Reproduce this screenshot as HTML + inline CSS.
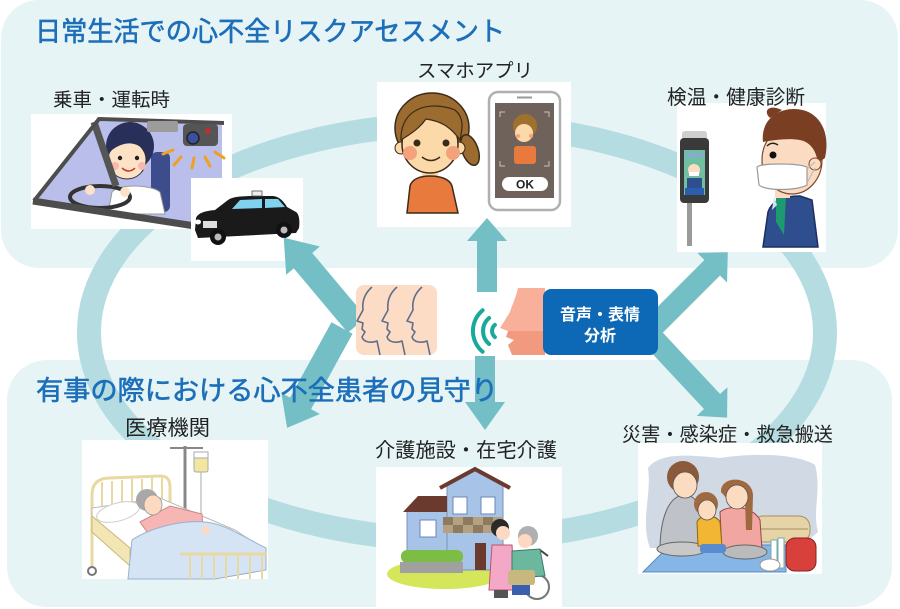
<!DOCTYPE html>
<html><head><meta charset="utf-8"><style>
html,body{margin:0;padding:0;background:#fff;}
svg{display:block;}
text{font-family:"Liberation Sans","Noto Sans CJK JP",sans-serif;}
</style></head><body>
<svg width="900" height="609" viewBox="0 0 900 609" xmlns="http://www.w3.org/2000/svg">
<rect width="900" height="609" fill="#fff"/>
<!-- panels -->
<rect x="1" y="0" width="897" height="268" rx="38" fill="#e6f4f6"/>
<rect x="7" y="360" width="885" height="247" rx="40" fill="#e6f4f6"/>
<!-- ring -->
<ellipse cx="457" cy="332" rx="368" ry="208" fill="none" stroke="#b5dde1" stroke-width="24"/>

<!-- ===== Driver ===== -->
<rect x="31" y="114" width="201" height="115" fill="#fff"/>
<polygon points="38,198 100,121 222,125 222,215 190,224" fill="#b9bfea"/>
<rect x="151" y="152" width="19" height="60" rx="6" fill="#3d4c8c"/>
<path d="M108,214 L112,192 C118,184 150,184 160,192 L165,214 Z" fill="#fff" stroke="#999" stroke-width="1"/>
<ellipse cx="130" cy="146" rx="24" ry="24" fill="#28305a"/>
<ellipse cx="127" cy="160" rx="19" ry="19" fill="#fde2c6" stroke="#333" stroke-width="1"/>
<path d="M107,156 C106,130 130,124 150,138 C150,146 148,150 146,152 C138,142 125,140 112,150 Z" fill="#28305a"/>
<circle cx="120" cy="158" r="2.2" fill="#222"/><circle cx="137" cy="158" r="2.2" fill="#222"/>
<circle cx="115" cy="166" r="4" fill="#f6b8b0"/><circle cx="142" cy="166" r="4" fill="#f6b8b0"/>
<path d="M122,168 Q129,174 135,168" fill="none" stroke="#c0392b" stroke-width="1.5"/>
<ellipse cx="100" cy="197" rx="30" ry="11" fill="none" stroke="#333" stroke-width="4"/>
<circle cx="90" cy="190" r="5" fill="#fde2c6"/><circle cx="125" cy="192" r="5" fill="#fde2c6"/>
<line x1="94" y1="122" x2="116" y2="186" stroke="#555" stroke-width="7"/>
<polyline points="34,201 99,119 224,123" fill="none" stroke="#4d4d4d" stroke-width="4"/>
<line x1="33" y1="201" x2="195" y2="226" stroke="#4d4d4d" stroke-width="7"/>
<rect x="147" y="121" width="31" height="11" rx="2" fill="#9c9c9c"/>
<rect x="183" y="124" width="35" height="22" rx="4" fill="#555"/>
<circle cx="193" cy="138" r="6" fill="#3a4fa0" stroke="#222" stroke-width="1.5"/>
<circle cx="208" cy="131" r="2.5" fill="#d22"/>
<g stroke="#f0a020" stroke-width="3" stroke-linecap="round">
<line x1="173" y1="150" x2="163" y2="154"/><line x1="181" y1="157" x2="174" y2="165"/>
<line x1="194" y1="158" x2="192" y2="168"/><line x1="205" y1="157" x2="210" y2="166"/>
<line x1="215" y1="152" x2="224" y2="158"/></g>

<!-- ===== Taxi ===== -->
<rect x="191" y="178" width="112" height="83" fill="#fff"/>
<path d="M195,230 L196,218 C198,213 205,211 215,210 L228,200 C232,197 240,196 255,196 L272,196 C278,196 283,200 287,207 L296,212 C299,214 300,220 299,228 L296,233 L198,238 Z" fill="#1a1a1a"/>
<path d="M232,209 L240,200 L262,199 L262,208 Z" fill="#7fd3ee"/>
<path d="M265,199 L278,199 L285,207 L265,208 Z" fill="#7fd3ee"/>
<rect x="203" y="221" width="14" height="7" fill="#ddd"/>
<ellipse cx="198" cy="222" rx="3" ry="2.5" fill="#fff"/>
<rect x="252" y="191" width="10" height="5" fill="#eee" stroke="#555" stroke-width="0.8"/>
<circle cx="218" cy="237" r="8" fill="#111"/><circle cx="218" cy="237" r="3.5" fill="#bbb"/>
<circle cx="284" cy="230" r="8" fill="#111"/><circle cx="284" cy="230" r="3.5" fill="#bbb"/>

<!-- ===== Smartphone ===== -->
<rect x="377" y="82" width="194" height="145" fill="#fff"/>
<ellipse cx="432" cy="128" rx="37" ry="35" fill="#9c6b2f" stroke="#3a2a1a" stroke-width="1.5"/>
<ellipse cx="470" cy="150" rx="8" ry="16" transform="rotate(-20 470 150)" fill="#9c6b2f" stroke="#3a2a1a" stroke-width="1.5"/>
<rect x="422" y="168" width="16" height="10" fill="#fcd9a8"/>
<path d="M407,213 L410,186 C412,179 420,176 430,176 C440,176 450,179 452,186 L458,213 Z" fill="#e97a3d" stroke="#3a2a1a" stroke-width="1.5"/>
<circle cx="401" cy="148" r="6" fill="#fcd9a8" stroke="#3a2a1a"/>
<circle cx="459" cy="148" r="6" fill="#fcd9a8" stroke="#3a2a1a"/>
<ellipse cx="430" cy="144" rx="28" ry="29" fill="#fcd9a8" stroke="#3a2a1a" stroke-width="1.5"/>
<path d="M401,140 C400,108 430,100 455,110 C465,118 462,130 460,140 C450,126 440,121 426,119 C419,129 409,135 401,140 Z" fill="#9c6b2f" stroke="#3a2a1a" stroke-width="1.2"/>
<circle cx="417" cy="143" r="3.5" fill="#3a2a1a"/><circle cx="446" cy="143" r="3.5" fill="#3a2a1a"/>
<circle cx="410" cy="153" r="7" fill="#f4a27c"/><circle cx="453" cy="153" r="7" fill="#f4a27c"/>
<path d="M422,157 Q431,164 440,157" fill="none" stroke="#3a2a1a" stroke-width="1.5"/>
<rect x="489" y="92" width="71" height="118" rx="9" fill="#fff" stroke="#b0b0b0" stroke-width="2.5"/>
<line x1="517" y1="97.5" x2="532" y2="97.5" stroke="#999" stroke-width="2"/>
<rect x="495" y="103" width="59" height="95" fill="#6e625a"/>
<g stroke="#c9c2bb" stroke-width="1" fill="none">
<polyline points="500,117 500,112 505,112"/><polyline points="544,112 549,112 549,117"/>
<polyline points="500,161 500,166 505,166"/><polyline points="544,166 549,166 549,161"/></g>
<circle cx="525" cy="126" r="12" fill="#a0702f"/>
<rect x="514" y="146" width="22" height="18" rx="3" fill="#e97a3d"/>
<circle cx="524" cy="133" r="9" fill="#fcd9a8"/>
<circle cx="518" cy="136" r="2" fill="#f4a27c"/><circle cx="531" cy="136" r="2" fill="#f4a27c"/>
<rect x="502" y="177" width="46" height="14" rx="7" fill="#fff"/>
<text x="525" y="188.5" font-size="12" font-weight="bold" text-anchor="middle" fill="#222">OK</text>

<!-- ===== Health ===== -->
<rect x="677" y="103" width="149" height="149" fill="#fff"/>
<rect x="687" y="200" width="5" height="46" fill="#9a9a9a"/>
<rect x="682" y="131" width="25" height="9" rx="3" fill="#cfcfcf"/>
<rect x="680" y="138" width="29" height="65" rx="4" fill="#3a3a3a"/>
<rect x="684" y="150" width="21" height="45" fill="#6fc0a0"/>
<rect x="686" y="153" width="17" height="4" fill="#8aa8d8"/>
<circle cx="694" cy="170" r="6" fill="#fcdcc2"/>
<rect x="689" y="172" width="10" height="4" fill="#fff"/>
<rect x="687" y="178" width="15" height="10" fill="#2e4e8e"/>
<rect x="685" y="188" width="19" height="7" fill="#2a5fb0"/>
<path d="M763,247 L768,212 C772,200 785,196 800,196 L812,200 L818,247 Z" fill="#2e4e8e" stroke="#1e2e5e" stroke-width="1.5"/>
<path d="M776,196 L786,196 L784,235 L776,222 Z" fill="#1e9a70"/>
<path d="M774,197 L772,210 L777,205 Z" fill="#cfe4f0"/>
<rect x="775" y="182" width="15" height="16" fill="#fbdcc2"/>
<ellipse cx="792" cy="160" rx="30" ry="34" fill="#fbdcc2" stroke="#7a4a30" stroke-width="1.2"/>
<path d="M763,142 C760,116 785,104 806,111 C822,117 830,135 825,158 L818,163 C816,150 810,142 800,140 C788,138 775,140 763,142 Z" fill="#7a3e22"/>
<path d="M770,118 C762,110 770,104 782,110 Z" fill="#7a3e22"/>
<circle cx="815" cy="164" r="6" fill="#fbdcc2" stroke="#7a4a30"/>
<circle cx="773" cy="155" r="3.5" fill="#111"/>
<path d="M767,146 Q772,141 778,145" fill="none" stroke="#222" stroke-width="1.5"/>
<path d="M757,167 C761,163 797,163 807,167 L807,185 C797,191 765,191 759,185 Z" fill="#fff" stroke="#999" stroke-width="1.2"/>
<line x1="807" y1="169" x2="815" y2="162" stroke="#bbb" stroke-width="1.2"/>
<line x1="807" y1="183" x2="815" y2="168" stroke="#bbb" stroke-width="1.2"/>

<!-- ===== Hospital ===== -->
<rect x="82" y="440" width="186" height="139" fill="#fff"/>
<line x1="185" y1="446" x2="185" y2="513" stroke="#888" stroke-width="3"/>
<line x1="170" y1="448" x2="203" y2="448" stroke="#888" stroke-width="2"/>
<rect x="194" y="452" width="14" height="20" rx="2" fill="#f2e7a0" stroke="#aaa"/>
<rect x="194" y="452" width="14" height="6" fill="#fff" stroke="#aaa"/>
<line x1="201" y1="472" x2="201" y2="520" stroke="#aaa"/>
<path d="M92,568 L92,495 C92,482 100,478 110,478 L160,476 C168,476 170,480 170,488 L170,512" fill="none" stroke="#e8d9a0" stroke-width="3"/>
<g stroke="#e8d9a0" stroke-width="2">
<line x1="102" y1="482" x2="102" y2="512"/><line x1="112" y1="481" x2="112" y2="510"/>
<line x1="122" y1="480" x2="122" y2="508"/><line x1="132" y1="479" x2="132" y2="506"/>
<line x1="142" y1="479" x2="142" y2="505"/><line x1="152" y1="478" x2="152" y2="504"/>
<line x1="162" y1="478" x2="162" y2="503"/></g>
<polygon points="92,508 160,498 235,530 262,548 262,556 132,556 92,520" fill="#fff" stroke="#bbb"/>
<polygon points="92,516 130,548 130,566 92,532" fill="#f3e6b5" stroke="#c9b878"/>
<ellipse cx="118" cy="512" rx="22" ry="9" transform="rotate(-15 118 512)" fill="#fff" stroke="#ccc"/>
<polygon points="140,522 170,506 202,514 203,530 150,536" fill="#f6b6b4" stroke="#c88"/>
<circle cx="147" cy="500" r="11" fill="#a8a8a8"/>
<ellipse cx="153" cy="505" rx="9" ry="10" fill="#fcd9c0" stroke="#999" stroke-width="0.8"/>
<path d="M128,579 L132,540 C150,528 180,520 205,522 C225,524 240,535 266,548 L266,570 L215,579 Z" fill="#d4e4f5" stroke="#9ab0d0"/>
<circle cx="206" cy="530" r="4" fill="#fcd9c0"/>
<line x1="180" y1="554" x2="267" y2="554" stroke="#e8d9a0" stroke-width="3"/>
<g stroke="#e8d9a0" stroke-width="2">
<line x1="190" y1="555" x2="190" y2="579"/><line x1="202" y1="555" x2="202" y2="579"/>
<line x1="214" y1="555" x2="214" y2="579"/><line x1="226" y1="555" x2="226" y2="579"/>
<line x1="238" y1="555" x2="238" y2="579"/><line x1="250" y1="555" x2="250" y2="579"/>
<line x1="262" y1="555" x2="262" y2="579"/></g>
<circle cx="92" cy="571" r="4" fill="none" stroke="#777" stroke-width="2"/>

<!-- ===== Care ===== -->
<rect x="376" y="467" width="186" height="140" fill="#fff"/>
<ellipse cx="445" cy="574" rx="58" ry="15" fill="#d5e65a"/>
<polygon points="447,486 475,471 503,486 503,570 447,570" fill="#a8c3e8" stroke="#7a90b8"/>
<polyline points="440,488 475,469 510,488" fill="none" stroke="#6b3a2e" stroke-width="4"/>
<rect x="453" y="497" width="14" height="17" fill="#fff" stroke="#6b86b8"/>
<rect x="481" y="497" width="14" height="17" fill="#fff" stroke="#6b86b8"/>
<rect x="407" y="510" width="40" height="43" fill="#a8c3e8" stroke="#7a90b8"/>
<polygon points="403,512 418,496 447,496 447,512" fill="#6b3a2e"/>
<rect x="420" y="520" width="16" height="17" fill="#fff" stroke="#6b86b8"/>
<rect x="443" y="517" width="60" height="16" fill="#b5a080"/>
<g fill="#8e7a5e"><rect x="443" y="517" width="10" height="8"/><rect x="463" y="517" width="10" height="8"/><rect x="483" y="517" width="10" height="8"/>
<rect x="453" y="525" width="10" height="8"/><rect x="473" y="525" width="10" height="8"/><rect x="493" y="525" width="10" height="8"/></g>
<rect x="475" y="543" width="11" height="27" fill="#6b3a2e"/>
<rect x="401" y="550" width="62" height="13" rx="6" fill="#7cbd45"/>
<rect x="400" y="562" width="63" height="11" fill="#a0a0a0"/>
<circle cx="500" cy="528" r="9" fill="#2a2a2a"/>
<circle cx="503" cy="533" r="7" fill="#fcd9c0"/>
<polygon points="492,545 512,545 515,590 489,590" fill="#f4a8c8" stroke="#b56"/>
<rect x="494" y="590" width="14" height="8" fill="#555"/>
<circle cx="537" cy="587" r="12" fill="none" stroke="#777" stroke-width="2"/>
<line x1="540" y1="550" x2="548" y2="556" stroke="#444" stroke-width="2"/>
<circle cx="528" cy="536" r="10" fill="#b0b0b0"/>
<circle cx="525" cy="541" r="7" fill="#fcd9c0"/>
<polygon points="512,551 540,549 545,576 512,578" fill="#6cb89e" stroke="#3a7a6a"/>
<rect x="508" y="570" width="27" height="15" rx="3" fill="#c8b880"/>
<rect x="512" y="585" width="18" height="10" fill="#3a5fb0"/>

<!-- ===== Disaster ===== -->
<rect x="638" y="443" width="184" height="131" fill="#fff"/>
<path d="M648,468 C660,452 690,455 720,458 C760,452 800,455 815,465 C822,490 812,510 818,532 L800,548 L650,548 C640,520 652,495 648,468 Z" fill="#d0d9e4"/>
<polygon points="643,572 670,545 786,545 786,572" fill="#86b6e6" stroke="#5a8abd"/>
<rect x="752" y="516" width="58" height="26" rx="11" fill="#e6d3a8" stroke="#a89060"/>
<line x1="756" y1="529" x2="808" y2="529" stroke="#a89060"/>
<path d="M660,550 C660,520 668,495 685,495 C700,495 706,520 705,545 Z" fill="#bfc3c9" stroke="#666"/>
<ellipse cx="682" cy="549" rx="25" ry="7" fill="#c8c8c8" stroke="#666"/>
<circle cx="683" cy="477" r="16" fill="#8b5a3a"/>
<ellipse cx="685" cy="485" rx="12" ry="13" fill="#fcdcc0" stroke="#555" stroke-width="0.8"/>
<path d="M720,512 C728,505 752,505 760,520 L762,550 L722,552 Z" fill="#f2a6a2" stroke="#944"/>
<ellipse cx="745" cy="552" rx="22" ry="7" fill="#bbb" stroke="#666"/>
<path d="M721,492 C720,475 752,475 753,495 L752,530 L746,530 L745,500 L728,500 Z" fill="#a0683f"/>
<ellipse cx="737" cy="497" rx="11" ry="12" fill="#fcdcc0" stroke="#555" stroke-width="0.8"/>
<path d="M697,522 C700,514 716,514 720,522 L722,546 L698,546 Z" fill="#f2b634" stroke="#8a6a10"/>
<rect x="700" y="544" width="26" height="9" rx="3" fill="#5a8ad0"/>
<circle cx="706" cy="504" r="12" fill="#a06a40"/>
<ellipse cx="707" cy="510" rx="9" ry="10" fill="#fcdcc0" stroke="#555" stroke-width="0.8"/>
<g fill="#fff" stroke="#7aa"><rect x="771" y="540" width="6" height="28"/><rect x="778" y="538" width="6" height="30"/></g>
<ellipse cx="770" cy="565" rx="10" ry="6" fill="#fff" stroke="#999"/>
<rect x="786" y="538" width="30" height="33" rx="9" fill="#d8403c" stroke="#8a2020"/>

<!-- ===== arrows ===== -->
<g fill="#74bec5">
<polygon transform="translate(487,292) rotate(-90)" points="0,-10 51,-10 51,-20 74,0 51,20 51,10 0,10"/>
<polygon transform="translate(485,356) rotate(90)" points="0,-10 46,-10 46,-20 74,0 46,20 46,10 0,10"/>
<polygon transform="translate(357,325) rotate(-130)" points="0,-12 84,-12 84,-22 114,0 84,22 84,12 0,12"/>
<polygon transform="translate(342,328) rotate(118.8)" points="0,-12 86,-12 86,-22 114,0 86,22 86,12 0,12"/>
<polygon transform="translate(650,330) rotate(-45)" points="0,-11 88,-11 88,-21 110,0 88,21 88,11 0,11"/>
<polygon transform="translate(650,335) rotate(47)" points="0,-11 91,-11 91,-21 113,0 91,21 91,11 0,11"/>
</g>

<!-- faces icon -->
<rect x="356" y="285" width="81" height="70" rx="8" fill="#fddcc6"/>
<g fill="none" stroke="#5f6f8a" stroke-width="1.6" stroke-linejoin="round">
<path d="M372,287 C364,294 362,302 363,310 L357,321 L363,323 L362,329 L365,332 L362,337 C364,343 372,343 377,341 L380,355"/>
<path d="M397,287 C389,294 387,302 388,310 L382,321 L388,323 L387,329 L390,332 L387,337 C389,343 397,343 402,341 L405,355"/>
<path d="M422,287 C414,294 412,302 413,310 L407,321 L413,323 L412,329 L415,332 L412,337 C414,343 422,343 427,341 L430,355"/>
</g>

<!-- speaking face -->
<path d="M545,288 L518,288 C515,300 512,305 510,312 L500,328 L508,331 L545,331 Z" fill="#f9b09a"/>
<path d="M545,331 L508,331 L506,337 L514,340 L508,345 L512,355 L545,355 Z" fill="#f29a80"/>
<g fill="none" stroke="#19a99b" stroke-width="4" stroke-linecap="round">
<path d="M494.9,324.9 A8,8 0 0 0 494.9,337.1"/>
<path d="M489.1,318 A17,17 0 0 0 489.1,344"/>
<path d="M482.6,310.3 A27,27 0 0 0 482.6,351.7"/>
</g>

<!-- center box -->
<rect x="543" y="289" width="115" height="66" rx="8" fill="#0d68b6"/>
<text x="600" y="320" font-size="16" font-weight="bold" fill="#fff" text-anchor="middle">音声・表情</text>
<text x="600" y="341" font-size="16" font-weight="bold" fill="#fff" text-anchor="middle">分析</text>

<!-- titles -->
<text x="35" y="41" font-size="27" fill="#1c6fb8" stroke="#1c6fb8" stroke-width="0.6" textLength="470" lengthAdjust="spacingAndGlyphs">日常生活での心不全リスクアセスメント</text>
<text x="36" y="400" font-size="27" fill="#1c6fb8" stroke="#1c6fb8" stroke-width="0.6" textLength="462" lengthAdjust="spacingAndGlyphs">有事の際における心不全患者の見守り</text>

<!-- labels -->
<g fill="#222">
<text x="53" y="106" font-size="19" textLength="117" lengthAdjust="spacingAndGlyphs">乗車・運転時</text>
<text x="417" y="77" font-size="19" textLength="116" lengthAdjust="spacingAndGlyphs">スマホアプリ</text>
<text x="667" y="104" font-size="20" textLength="138" lengthAdjust="spacingAndGlyphs">検温・健康診断</text>
<text x="125" y="435" font-size="21" textLength="85" lengthAdjust="spacingAndGlyphs">医療機関</text>
<text x="375" y="457" font-size="20" textLength="182" lengthAdjust="spacingAndGlyphs">介護施設・在宅介護</text>
<text x="622" y="441" font-size="19.5" textLength="211" lengthAdjust="spacingAndGlyphs">災害・感染症・救急搬送</text>
</g>
</svg>
</body></html>
